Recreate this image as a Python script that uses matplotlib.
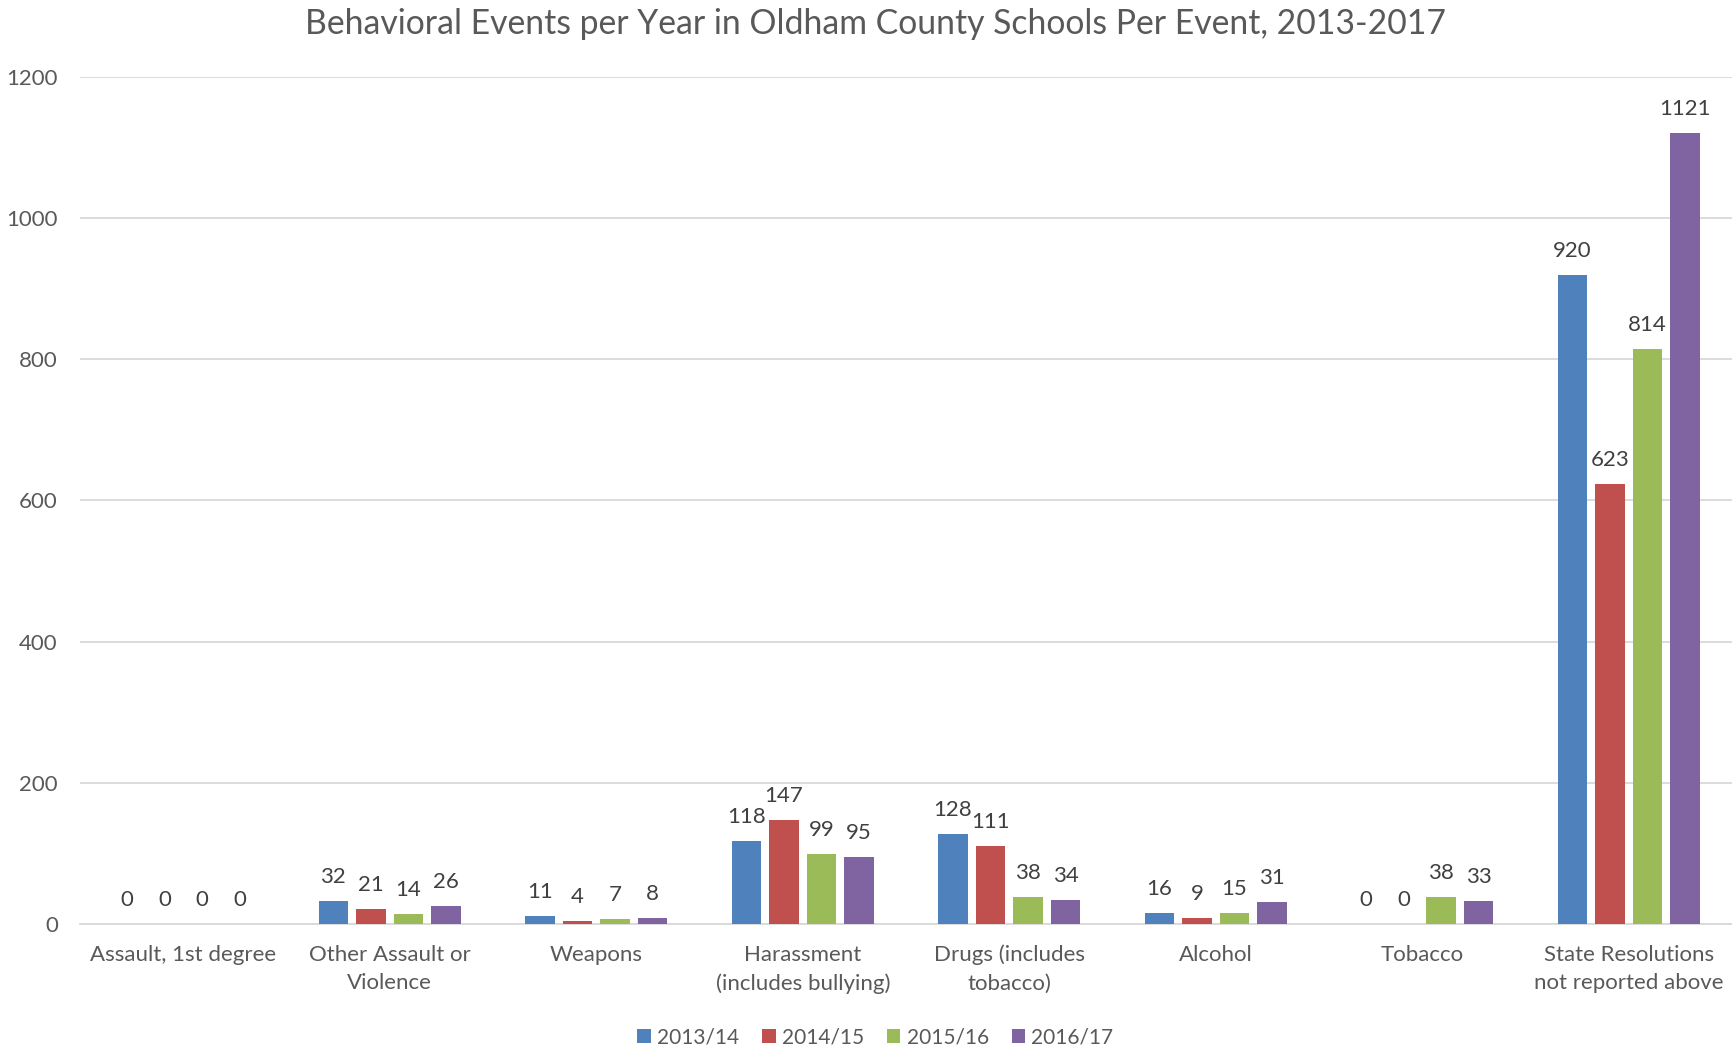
import matplotlib
matplotlib.use("Agg")
import matplotlib.pyplot as plt
import numpy as np

categories = ["Assault, 1st degree", "Other Assault or\nViolence", "Weapons",
              "Harassment\n(includes bullying)", "Drugs (includes\ntobacco)", "Alcohol",
              "Tobacco", "State Resolutions\nnot reported above"]
series_names = ["2013/14", "2014/15", "2015/16", "2016/17"]
v2013 = [0, 32, 11, 118, 128, 16, 0, 920]
v2014 = [0, 21, 4, 147, 111, 9, 0, 623]
v2015 = [0, 14, 7, 99, 38, 15, 38, 814]
v2016 = [0, 26, 8, 95, 34, 31, 33, 1121]
yticks = [0, 200, 400, 600, 800, 1000, 1200]
title = "Behavioral Events per Year in Oldham County Schools Per Event, 2013-2017"

colors = ["#4F81BD", "#C0504D", "#9BBB59", "#8064A2"]
txt = "#595959"
plt.rcParams['font.family'] = ['Lato', 'DejaVu Sans']

fig = plt.figure(figsize=(17.32, 10.54), dpi=100)
ax = fig.add_axes([80/1732, 1-924/1054, 1-80/1732, (924-77)/1054])

x = np.arange(len(categories))
w = 0.144
pitch = 0.182
for i, (vals, name) in enumerate(zip([v2013, v2014, v2015, v2016], series_names)):
    pos = x + (i - 1.5) * pitch
    ax.bar(pos, vals, width=w, color=colors[i], label=name, zorder=3)
    for p, v in zip(pos, vals):
        ax.text(p, v + 20, str(v), ha='center', va='bottom', fontsize=16, color="#404040")

ax.set_xlim(-0.5, len(categories) - 0.5)
ax.set_ylim(0, 1200)
ax.set_yticks(yticks)
ax.set_yticklabels([str(t) for t in yticks])
ax.set_xticks(x)
ax.set_xticklabels(categories, fontsize=16, color=txt, linespacing=1.5)
ax.tick_params(axis='y', labelsize=16, labelcolor=txt, length=0, pad=16)
ax.tick_params(axis='x', length=0, pad=15)
ax.grid(axis='y', color='#D9D9D9', linewidth=1.3, zorder=0)
for s in ['top', 'right', 'left']:
    ax.spines[s].set_visible(False)
ax.spines['bottom'].set_color('#D9D9D9')
ax.spines['bottom'].set_linewidth(1.3)

fig.text(0.5054, 1-24/1054, title, ha='center', va='center', fontsize=24.3, color=txt)
fig.legend(loc='center', bbox_to_anchor=(0.5054, 1-1037/1054), ncol=4, frameon=False,
           fontsize=15, labelcolor=txt, handlelength=0.65, handleheight=0.65,
           handletextpad=0.3, columnspacing=1.1)

fig.savefig("out.png", dpi=100)
